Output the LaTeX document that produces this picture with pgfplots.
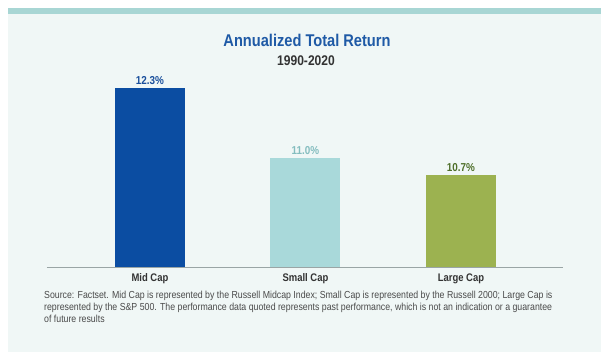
\documentclass[border=0pt]{standalone}
\usepackage{pgfplots}
\pgfplotsset{compat=1.18}
\usepackage{fontspec}
\setmainfont{Liberation Sans}[FakeStretch=0.86]
\definecolor{panel}{HTML}{F0F7F6}
\definecolor{stripe}{HTML}{A8D6D4}
\definecolor{midc}{HTML}{0B4DA2}
\definecolor{smallc}{HTML}{A9D9DA}
\definecolor{largec}{HTML}{9CB250}
\definecolor{midl}{HTML}{1A4F9C}
\definecolor{smalll}{HTML}{84BDBF}
\definecolor{largel}{HTML}{4F6F2A}
\definecolor{titleblue}{HTML}{1F5AA6}
\definecolor{darktxt}{HTML}{333333}
\definecolor{foot}{HTML}{4A4A4A}
\definecolor{axline}{HTML}{9AA5A5}
\begin{document}
\begin{tikzpicture}[x=1pt,y=1pt]
\useasboundingbox (0,0) rectangle (608,358);
\fill[white] (0,0) rectangle (608,358);
\fill[panel] (8,6) rectangle (601,350);
\fill[stripe] (8,344) rectangle (601,350);
\node[font=\fontsize{17}{19}\selectfont\bfseries, text=titleblue] at (307,318) {Annualized Total Return};
\node[font=\fontsize{14}{16}\selectfont\bfseries, text=darktxt] at (306,297) {1990-2020};
\begin{axis}[
  at={(47pt,91pt)}, anchor=south west,
  scale only axis, width=516pt, height=195.3pt,
  xmin=-0.662, xmax=2.656, ymin=9, ymax=12.6,
  axis y line=none, axis x line*=bottom,
  x axis line style={axline, line width=0.8pt, -},
  xtick={0,1,2}, xticklabels={Mid Cap, Small Cap, Large Cap},
  major tick length=0pt,
  /pgf/number format/assume math mode=true,
  xticklabel style={font=\fontsize{11}{13}\selectfont\bfseries, text=darktxt, yshift=-3pt},
  ybar, bar width=70pt,
  nodes near coords={\pgfmathprintnumber[fixed,fixed zerofill,precision=1,assume math mode=true]{\pgfplotspointmeta}\%},
  every node near coord/.append style={font=\fontsize{11.5}{13}\selectfont\bfseries, yshift=0pt},
]
\addplot[fill=midc, draw=none, bar shift=0pt, nodes near coords style={text=midl}] coordinates {(0,12.3)};
\addplot[fill=smallc, draw=none, bar shift=0pt, nodes near coords style={text=smalll}] coordinates {(1,11.0)};
\addplot[fill=largec, draw=none, bar shift=0pt, nodes near coords style={text=largel}] coordinates {(2,10.7)};
\end{axis}
\node[anchor=north west, align=left, text=foot, font=\fontsize{10.2}{12}\selectfont, inner sep=0pt] at (44,67) {Source: Factset. Mid Cap is represented by the Russell Midcap Index; Small Cap is represented by the Russell 2000; Large Cap is\\represented by the S\&P 500. The performance data quoted represents past performance, which is not an indication or a guarantee\\of future results};
\end{tikzpicture}
\end{document}
